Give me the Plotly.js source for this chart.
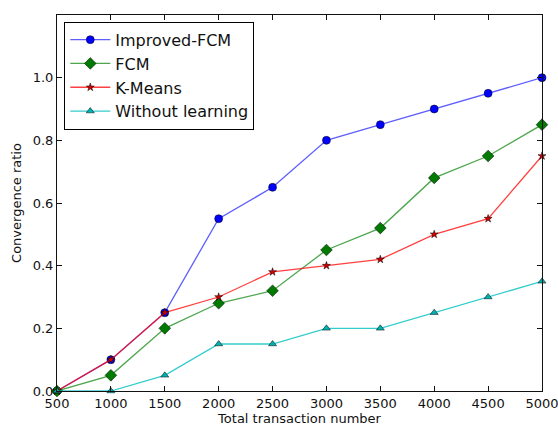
<!DOCTYPE html>
<html>
<head>
<meta charset="utf-8">
<script src="https://cdn.plot.ly/plotly-3.0.1.min.js"></script>
<style>
  html, body { margin: 0; padding: 0; background: #fff; }
  #chart { width: 558px; height: 426px; }
</style>
</head>
<body>
<div id="chart"></div>
<script>
// Transaction counts on the x axis
const transactions = [500, 1000, 1500, 2000, 2500, 3000, 3500, 4000, 4500, 5000];

// Convergence ratio per method
const improvedFcm = [0, 0.10, 0.25, 0.55, 0.65, 0.80, 0.85, 0.90, 0.95, 1.00];
const fcm         = [0, 0.05, 0.20, 0.28, 0.32, 0.45, 0.52, 0.68, 0.75, 0.85];
const kMeans      = [0, 0.10, 0.25, 0.30, 0.38, 0.40, 0.42, 0.50, 0.55, 0.75];
const noLearning  = [0, 0.00, 0.05, 0.15, 0.15, 0.20, 0.20, 0.25, 0.30, 0.35];

const seriesNames = ['Improved-FCM', 'FCM', 'K-Means', 'Without learning'];

const xTicks = [500, 1000, 1500, 2000, 2500, 3000, 3500, 4000, 4500, 5000];
const yTicks = [0, 0.2, 0.4, 0.6, 0.8, 1.0];

function series(name, y, lineColor, markerColor, symbol, size) {
  return {
    x: transactions, y: y, name: name, type: 'scatter', mode: 'lines+markers',
    line: { color: lineColor, width: 1.3 },
    marker: { color: markerColor, symbol: symbol, size: size,
              line: { color: '#000', width: 0.5 } },
    cliponaxis: false
  };
}

const traces = [
  series(seriesNames[0], improvedFcm, 'rgba(40,40,255,0.75)', '#0000ff', 'circle', 8),
  series(seriesNames[1], fcm, 'rgba(0,128,0,0.7)', '#007a00', 'diamond', 9),
  series(seriesNames[2], kMeans, 'rgba(255,0,0,0.75)', '#cc0000', 'star', 6),
  series(seriesNames[3], noLearning, 'rgba(0,191,191,0.8)', '#00b0b0', 'triangle-up', 7)
];

const axisCommon = {
  showline: true, linecolor: '#111', linewidth: 1, mirror: 'ticks',
  ticks: 'inside', ticklen: 5, tickcolor: '#111', tickwidth: 1,
  showgrid: false, zeroline: false, ticklabeloverflow: 'allow',
  tickfont: { family: 'DejaVu Sans', size: 13, color: '#111' }
};

const layout = {
  width: 558, height: 426,
  margin: { l: 57, r: 16, t: 15, b: 35 },
  paper_bgcolor: '#fff', plot_bgcolor: '#fff',
  font: { family: 'DejaVu Sans', color: '#111' },
  xaxis: Object.assign({}, axisCommon, {
    range: [500, 5000], tickvals: xTicks, ticktext: xTicks.map(String),
    title: { text: 'Total transaction number', font: { size: 13 }, standoff: 2 }
  }),
  yaxis: Object.assign({}, axisCommon, {
    range: [0, 1.2], tickvals: yTicks, ticktext: yTicks.map(v => v.toFixed(1)),
    title: { text: 'Convergence ratio', font: { size: 13 }, standoff: 8 }
  }),
  legend: {
    x: 0.015, y: 0.982, xanchor: 'left', yanchor: 'top',
    bgcolor: '#fff', bordercolor: '#000', borderwidth: 1,
    font: { family: 'DejaVu Sans', size: 16, color: '#111' },
    tracegroupgap: 0, itemwidth: 40
  },
  showlegend: true
};

Plotly.newPlot('chart', traces, layout, { displayModeBar: false, staticPlot: true });
</script>
</body>
</html>
